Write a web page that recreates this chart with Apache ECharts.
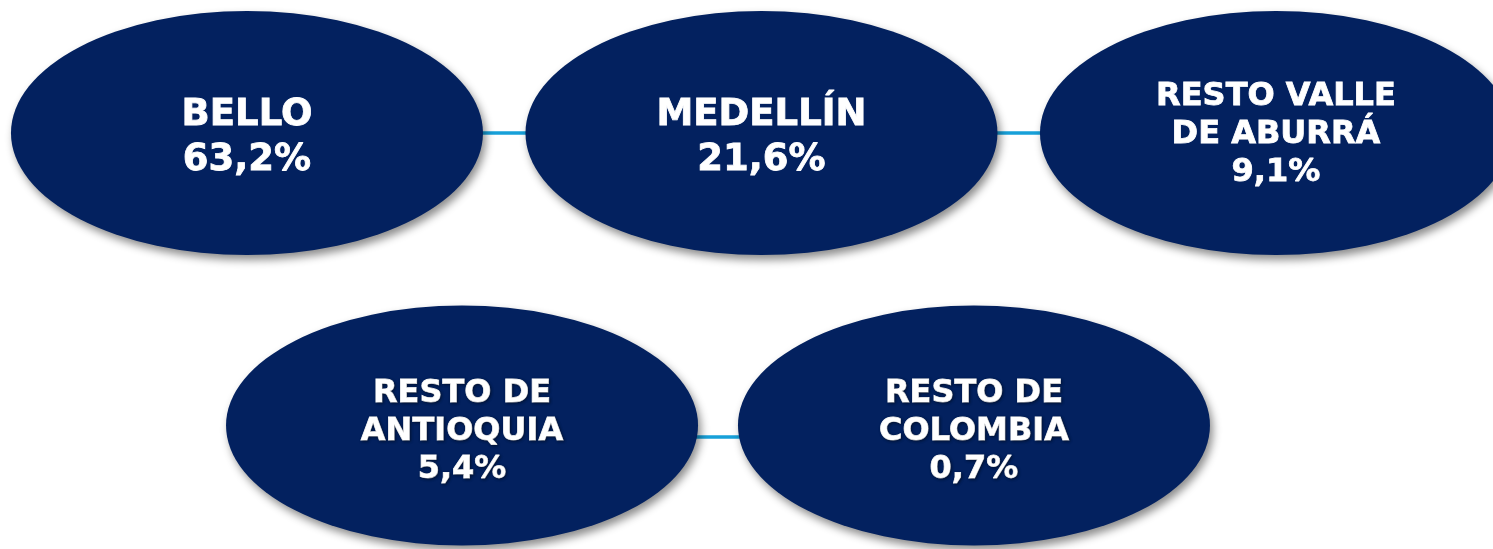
<!DOCTYPE html>
<html>
<head>
<meta charset="utf-8">
<script src="https://cdn.jsdelivr.net/npm/echarts@6/dist/echarts.min.js"></script>
<style>
  html, body { margin: 0; padding: 0; background: #fff; }
  #chart { width: 1493px; height: 549px; }
</style>
</head>
<body>
<div id="chart"></div>
<script>
// data
const names  = ['BELLO', 'MEDELLÍN', 'RESTO VALLE\nDE ABURRÁ', 'RESTO DE\nANTIOQUIA', 'RESTO DE\nCOLOMBIA']
const shares = [63.2, 21.6, 9.1, 5.4, 0.7]
// diagram layout: column / row slot of each ellipse
const cols   = [0, 1, 2, 0.418, 1.413]
const rows   = [0, 0, 0, 1, 1]
const links  = [[0, 1], [1, 2], [3, 4]]

const NAVY = '#03215f'
const fmt = v => v.toFixed(1).replace('.', ',') + '%'

const chart = echarts.init(document.getElementById('chart'))

const nodes = names.map((n, i) => {
  const big = !n.includes('\n')
  const bottom = rows[i] === 1
  return {
    name: n,
    value: [cols[i], rows[i]],
    symbolSize: bottom ? [472, 240] : [472, 244],
    // connector on the lower row sits a bit under the ellipse centres
    symbolOffset: [0, bottom ? -11.5 : 0],
    label: {
      fontSize: big ? 37 : 32,
      lineHeight: big ? 45 : 38,
      offset: [0, bottom ? 6 : (big ? 5 : 2)],
      textShadowColor: bottom ? 'rgba(0,0,0,0.45)' : 'transparent',
      textShadowBlur: bottom ? 3 : 0,
      textShadowOffsetX: bottom ? 1 : 0,
      textShadowOffsetY: bottom ? 1.5 : 0,
    },
  }
})

chart.setOption({
  animation: false,
  grid: { left: 0, right: 0, top: 0, bottom: 0 },
  xAxis: { type: 'value', min: -0.48, max: 2.4218, show: false },
  yAxis: { type: 'value', inverse: true, min: -0.4375, max: 1.3684, show: false },
  series: [{
    type: 'graph',
    coordinateSystem: 'cartesian2d',
    symbol: 'circle',
    data: nodes,
    links: links.map(([s, t]) => ({ source: s, target: t })),
    lineStyle: { color: '#17a0d9', width: 3.5, opacity: 1, curveness: 0 },
    itemStyle: {
      color: NAVY,
      shadowColor: 'rgba(0,0,0,0.45)',
      shadowBlur: 8,
      shadowOffsetX: 3,
      shadowOffsetY: 5,
    },
    label: {
      show: true,
      position: 'inside',
      color: '#fff',
      fontFamily: 'DejaVu Sans',
      fontWeight: 'bold',
      align: 'center',
      textBorderColor: '#fff',
      textBorderWidth: 0.8,
      formatter: p => p.name + '\n' + fmt(shares[p.dataIndex]),
    },
    emphasis: { disabled: true },
  }],
})
</script>
</body>
</html>
